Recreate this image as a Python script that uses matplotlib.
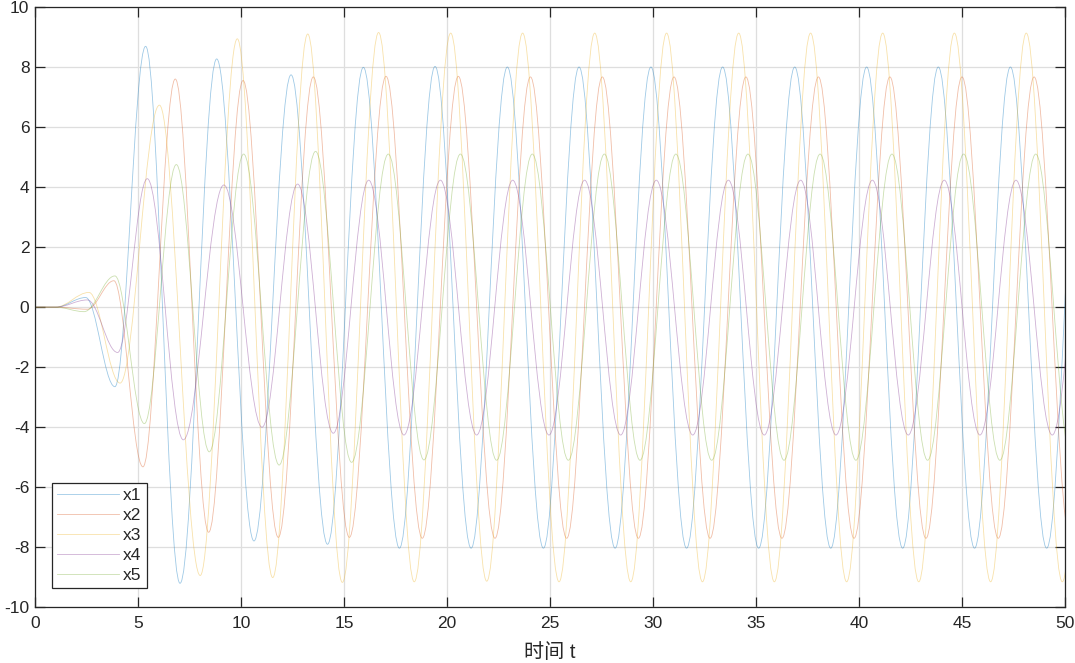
import matplotlib
matplotlib.use("Agg")
import matplotlib.pyplot as plt
from matplotlib.path import Path
from matplotlib.patches import PathPatch
from matplotlib.lines import Line2D

plt.rcParams['font.family'] = ['Liberation Sans', 'Noto Sans CJK SC', 'DejaVu Sans']
plt.rcParams['axes.unicode_minus'] = False

# Extrema (time, value), per series
x1_t = [0.0, 1.0, 2.46, 3.88, 5.37, 7.04, 8.82, 10.63, 12.43, 14.20, 15.94, 17.69, 19.42, 21.17,
        22.93, 24.68, 26.41, 28.16, 29.90, 31.63, 33.38, 35.13, 36.88, 38.63, 40.37, 42.12,
        43.85, 45.61, 47.35, 49.11, 50.86]
x1_v = [0.0, 0.0, 0.32, -2.65, 8.69, -9.20, 8.27, -7.79, 7.74, -7.90, 7.99, -8.03, 8.02, -8.03,
        8.00, -8.03, 8.00, -8.03, 8.00, -8.03, 8.00, -8.03, 8.00, -8.03, 8.00, -8.03,
        8.00, -8.03, 8.00, -8.03, 8.00]

x2_t = [0.0, 1.0, 2.54, 3.83, 5.24, 6.81, 8.43, 10.10, 11.81, 13.51, 15.26, 17.04, 18.80, 20.55,
        22.33, 24.05, 25.81, 27.54, 29.29, 31.02, 32.77, 34.51, 36.26, 38.03, 39.76, 41.50,
        43.25, 45.00, 46.76, 48.50, 50.25]
x2_v = [0.0, 0.0, -0.07, 0.88, -5.32, 7.60, -7.50, 7.55, -7.67, 7.67, -7.67, 7.69, -7.70, 7.69,
        -7.70, 7.67, -7.70, 7.67, -7.70, 7.67, -7.70, 7.67, -7.70, 7.67, -7.70, 7.67,
        -7.70, 7.67, -7.70, 7.67, -7.70]

x3_t = [0.0, 1.0, 2.62, 4.13, 6.04, 8.02, 9.82, 11.54, 13.24, 14.92, 16.68, 18.41, 20.18, 21.93,
        23.67, 25.44, 27.17, 28.92, 30.66, 32.40, 34.16, 35.89, 37.65, 39.40, 41.15, 42.90,
        44.63, 46.39, 48.12, 49.87, 51.62]
x3_v = [0.0, 0.0, 0.49, -2.53, 6.73, -8.94, 8.94, -9.01, 9.10, -9.17, 9.15, -9.15, 9.13, -9.13,
        9.13, -9.15, 9.13, -9.15, 9.13, -9.15, 9.13, -9.15, 9.13, -9.15, 9.13, -9.15,
        9.13, -9.15, 9.13, -9.15, 9.13]

x4_t = [0.0, 1.0, 2.54, 4.01, 5.45, 7.20, 9.17, 11.02, 12.75, 14.48, 16.20, 17.91, 19.68, 21.44,
        23.19, 24.95, 26.68, 28.43, 30.16, 31.93, 33.66, 35.40, 37.17, 38.88, 40.65, 42.39,
        44.14, 45.87, 47.62, 49.38, 51.12]
x4_v = [0.0, 0.0, 0.24, -1.51, 4.28, -4.42, 4.07, -4.00, 4.10, -4.20, 4.23, -4.26, 4.23, -4.26,
        4.23, -4.26, 4.23, -4.26, 4.23, -4.26, 4.23, -4.26, 4.23, -4.26, 4.23, -4.26,
        4.23, -4.26, 4.23, -4.26, 4.23]

x5_t = [0.0, 1.0, 2.38, 3.88, 5.31, 6.86, 8.46, 10.13, 11.85, 13.62, 15.37, 17.15, 18.88, 20.65,
        22.41, 24.14, 25.89, 27.64, 29.37, 31.11, 32.85, 34.61, 36.36, 38.11, 39.85, 41.60,
        43.33, 45.08, 46.84, 48.58, 50.33]
x5_v = [0.0, 0.0, -0.15, 1.04, -3.88, 4.75, -4.82, 5.10, -5.26, 5.19, -5.17, 5.10, -5.09, 5.10,
        -5.10, 5.10, -5.10, 5.10, -5.10, 5.10, -5.10, 5.10, -5.10, 5.10, -5.10, 5.10,
        -5.10, 5.10, -5.10, 5.10, -5.10]

labels = ['x1', 'x2', 'x3', 'x4', 'x5']
series = [(x1_t, x1_v), (x2_t, x2_v), (x3_t, x3_v), (x4_t, x4_v), (x5_t, x5_v)]
colors = ['#0072BD', '#D95319', '#EDB120', '#7E2F8E', '#77AC30']

xticks = list(range(0, 51, 5))
yticks = list(range(-10, 11, 2))

fig = plt.figure(figsize=(10.75, 6.63), dpi=100)
ax = fig.add_axes([35 / 1075, 1 - 607.3 / 663, 1030 / 1075, 600.3 / 663])

K = 0.3634  # smooth curve between successive extrema (horizontal tangents)


def smooth_path(ts, vs):
    verts = [(ts[0], vs[0])]
    codes = [Path.MOVETO]
    for i in range(1, len(ts)):
        dt = ts[i] - ts[i - 1]
        verts += [(ts[i - 1] + K * dt, vs[i - 1]), (ts[i] - K * dt, vs[i]), (ts[i], vs[i])]
        codes += [Path.CURVE4] * 3
    return Path(verts, codes)


LW = 0.6
ALPHA = 0.38
handles = []
for (ts, vs), c, lab in zip(series, colors, labels):
    patch = PathPatch(smooth_path(ts, vs), fill=False, edgecolor=c, linewidth=LW, alpha=ALPHA)
    ax.add_patch(patch)
    handles.append(Line2D([], [], color=c, linewidth=LW, alpha=ALPHA, label=lab))

ax.set_xlim(0, 50)
ax.set_ylim(-10, 10)
ax.set_xticks(xticks)
ax.set_yticks(yticks)
ax.grid(True, color='#dedede', linewidth=0.9)
ax.set_axisbelow(True)
for s in ax.spines.values():
    s.set_color('#262626')
    s.set_linewidth(0.9)
ax.tick_params(direction='in', length=7.5, width=0.9, color='#262626', top=True, right=True,
               labelsize=12.5, labelcolor='#262626')
ax.tick_params(axis='y', pad=4)
ax.tick_params(axis='x', pad=6)

ax.set_xlabel('时间 t', fontsize=14.5, color='#262626', labelpad=9,
              family=['Liberation Sans', 'Noto Sans CJK SC'])

leg = ax.legend(handles=handles, loc='lower left', bbox_to_anchor=(0.0162, 0.0317),
                borderaxespad=0, fontsize=12.5, handlelength=3.6, handletextpad=0.2,
                labelspacing=0.28, borderpad=0.3, fancybox=False, framealpha=1,
                edgecolor='#262626')
leg.get_frame().set_linewidth(0.9)
for t in leg.get_texts():
    t.set_color('#262626')

fig.savefig('out.png', dpi=100)
